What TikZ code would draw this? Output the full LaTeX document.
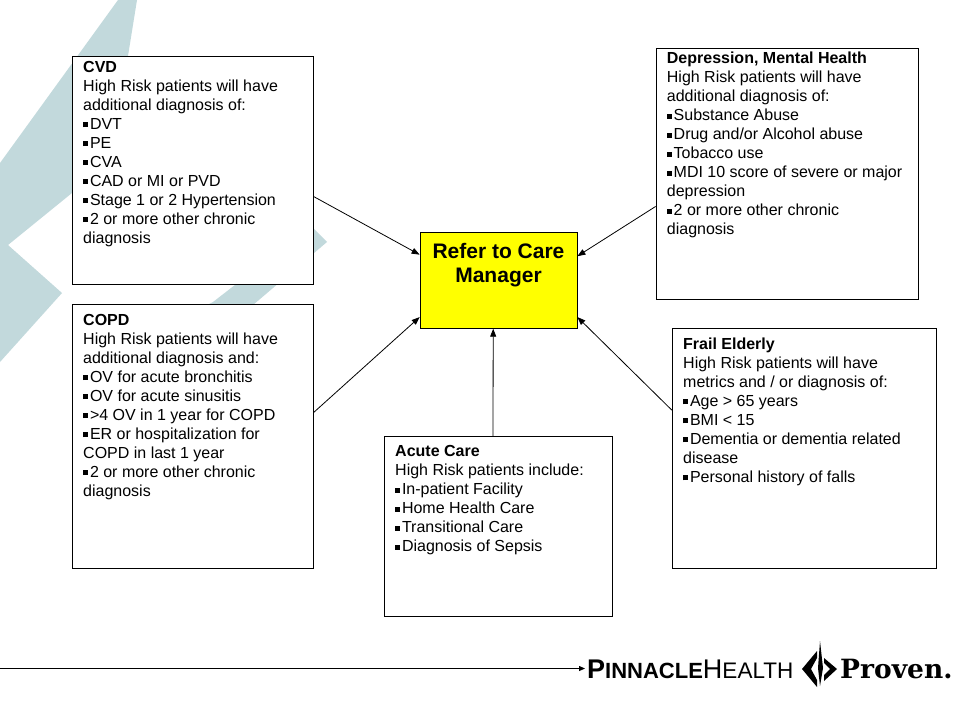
\documentclass[tikz,border=0pt]{standalone}
\usepackage{fontspec}
\setmainfont{Liberation Sans}
\newfontfamily\slabfont{DejaVu Serif}
\usepackage{tikz}
\usetikzlibrary{arrows.meta}
\definecolor{watermark}{RGB}{194,217,220}
\definecolor{referyellow}{RGB}{255,255,0}
\newcommand{\sqbul}{\rule[2.2pt]{4.8pt}{5pt}\hspace{2pt}}

\begin{document}
\begin{tikzpicture}[x=1pt, y=-1pt,
    box/.style={draw, line width=0.8pt, fill=white, inner sep=0pt},
    listtext/.style={anchor=north west, inner sep=0pt, align=left, font=\fontsize{16}{19}\selectfont},
    feed/.style={-{Triangle[length=8pt,width=6pt]}, line width=0.8pt}]
  \useasboundingbox (0,0) rectangle (960,720);
  % faded logo mark behind the boxes
  \fill[watermark] (118,0) -- (137,0) -- (128,56) -- (72,193) -- (8,245) -- (62,293) -- (0,362) -- (0,163) -- cycle;
  \fill[watermark] (311,226) -- (327,242) -- (253,305) -- (200,350) -- (160,330) -- (213,302) -- cycle;

  \node[box, minimum width=241pt, minimum height=228pt] (cvd) at (192.5,170.7) {};
  \node[box, minimum width=241pt, minimum height=263.7pt] (copd) at (192.5,436.2) {};
  \node[box, minimum width=262pt, minimum height=250.7pt] (mental) at (787,173.7) {};
  \node[box, minimum width=264.4pt, minimum height=239.7pt] (frail) at (804.5,448.2) {};
  \node[box, minimum width=228pt, minimum height=179.3pt] (acute) at (498.3,526.3) {};
  \node[box, fill=referyellow, minimum width=157pt, minimum height=96pt] (refer) at (498.5,280.3) {};

  \node[listtext] (cvdtext) at (83,58.7) {\strut\textbf{CVD}\\
    High Risk patients will have\\
    additional diagnosis of:\\
    \sqbul DVT\\
    \sqbul PE\\
    \sqbul CVA\\
    \sqbul CAD or MI or PVD\\
    \sqbul Stage 1 or 2 Hypertension\\
    \sqbul 2 or more other chronic\\
    diagnosis};
  \node[listtext] (copdtext) at (83,311.7) {\strut\textbf{COPD}\\
    High Risk patients will have\\
    additional diagnosis and:\\
    \sqbul OV for acute bronchitis\\
    \sqbul OV for acute sinusitis\\
    \sqbul >4 OV in 1 year for COPD\\
    \sqbul ER or hospitalization for\\
    COPD in last 1 year\\
    \sqbul 2 or more other chronic\\
    diagnosis};
  \node[listtext] (mentaltext) at (666.7,50.4) {\strut\textbf{Depression, Mental Health}\\
    High Risk patients will have\\
    additional diagnosis of:\\
    \sqbul Substance Abuse\\
    \sqbul Drug and/or Alcohol abuse\\
    \sqbul Tobacco use\\
    \sqbul MDI 10 score of severe or major\\
    depression\\
    \sqbul 2 or more other chronic\\
    diagnosis};
  \node[listtext] (frailtext) at (683,336) {\strut\textbf{Frail Elderly}\\
    High Risk patients will have\\
    metrics and / or diagnosis of:\\
    \sqbul Age > 65 years\\
    \sqbul BMI < 15\\
    \sqbul Dementia or dementia related\\
    disease\\
    \sqbul Personal history of falls};
  \node[listtext] (acutetext) at (395,443.4) {\strut\textbf{Acute Care}\\
    High Risk patients include:\\
    \sqbul In-patient Facility\\
    \sqbul Home Health Care\\
    \sqbul Transitional Care\\
    \sqbul Diagnosis of Sepsis};
  \node[anchor=north, inner sep=0pt, align=center, font=\fontsize{21}{24.5}\selectfont\bfseries] (refertext) at (498.5,240.85) {\strut Refer to Care\\Manager};

  \draw[feed] (cvd.-12.3) -- (refer.162.1);
  \draw[feed] (copd.11.4) -- (refer.205.1);
  \draw[feed] (mental.194.7) -- (refer.17.9);
  \draw[feed] (frail.164.7) -- (refer.-25.1);
  \draw[feed] ([xshift=-5.3pt]acute.north) -- ([xshift=-5.3pt]refer.south);

  % footer logo
  \node[anchor=base west, inner sep=2pt] (pinnacle) at (585,678) {\bfseries\fontsize{27}{28}\selectfont P\fontsize{22}{24}\selectfont INNACLE\mdseries\fontsize{27}{28}\selectfont H\fontsize{22.5}{24}\selectfont EALTH};
  \fill (802,669) -- (817,651) -- (817,658) -- (811,669) -- (817,680) -- (817,687) -- cycle;
  \fill (820,641) -- (823,668) -- (820,686) -- (818,668) -- cycle;
  \fill (824,658) -- (837,669) -- (824,681) -- (824,675) -- (830,669) -- (824,663) -- cycle;
  \node[anchor=base west, inner sep=0pt, font=\slabfont\bfseries\fontsize{26.5}{28}\selectfont] (proven) at (840,678) {Proven.};
  \coordinate (rulestart) at (0,668.5);
  \draw[-{Triangle[length=6pt,width=5pt]}, line width=0.8pt] (rulestart) -- (pinnacle.west |- rulestart);
\end{tikzpicture}
\end{document}
